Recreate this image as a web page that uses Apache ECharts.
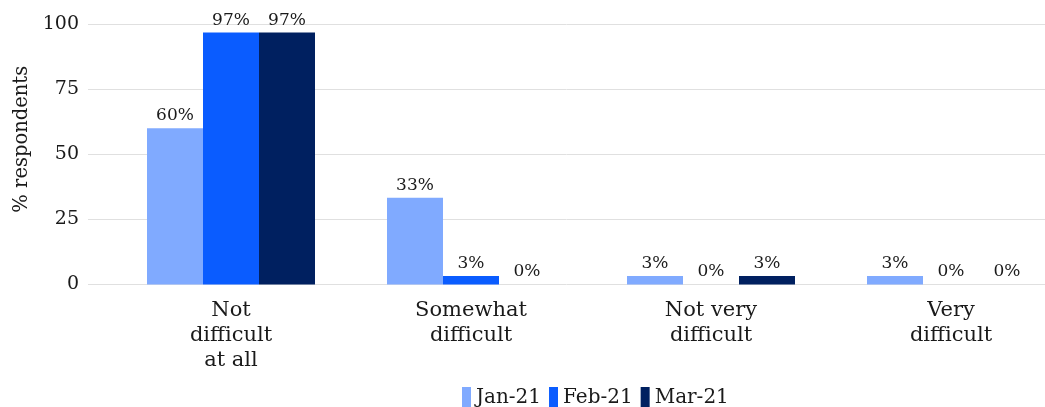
<!DOCTYPE html>
<html>
<head>
<meta charset="utf-8">
<script src="https://cdn.jsdelivr.net/npm/echarts@6/dist/echarts.min.js"></script>
<style>
html,body{margin:0;padding:0;background:#fff;}
#chart{width:1045px;height:407px;}
</style>
</head>
<body>
<div id="chart"></div>
<script>
const categories = ['Not\ndifficult\nat all', 'Somewhat\ndifficult', 'Not very\ndifficult', 'Very\ndifficult'];
const seriesNames = ['Jan-21', 'Feb-21', 'Mar-21'];
const jan21 = [60, 33.3, 3.3, 3.3];
const feb21 = [96.7, 3.3, 0, 0];
const mar21 = [96.7, 0, 3.3, 0];
const yTicks = [0, 25, 50, 75, 100];
const colors = ['#80aaff', '#0a5cff', '#002060'];
const FONT = 'DejaVu Serif';

const chart = echarts.init(document.getElementById('chart'));
const mkSeries = (name, data, color) => ({
  name: name, type: 'bar', xAxisIndex: 1, yAxisIndex: 1,
  data: data, barWidth: 56, barGap: '0%',
  itemStyle: { color: color },
  label: {
    show: true, position: 'top', distance: 4,
    fontFamily: FONT, fontSize: 17, color: '#1a1a1a',
    formatter: p => Math.round(p.value) + '%'
  }
});
chart.setOption({
  animation: false,
  textStyle: { fontFamily: FONT },
  grid: [
    { left: 88, right: 0, top: 24, bottom: 122.5, outerBoundsMode: 'none' },
    { left: 111, width: 960, top: 24, bottom: 122.5, outerBoundsMode: 'none' }
  ],
  legend: {
    left: 457, top: 382, itemWidth: 9, itemHeight: 21, itemGap: 8,
    icon: 'rect',
    textStyle: { fontFamily: FONT, fontSize: 20, color: '#1a1a1a' },
    data: seriesNames
  },
  xAxis: [
    { gridIndex: 0, type: 'category', data: [''], show: false },
    {
      gridIndex: 1, type: 'category', data: categories,
      axisLine: { show: false }, axisTick: { show: false },
      axisLabel: { fontFamily: FONT, fontSize: 21, lineHeight: 25, color: '#1a1a1a', margin: 14 }
    }
  ],
  yAxis: [
    {
      gridIndex: 0, type: 'value', min: yTicks[0], max: yTicks[yTicks.length - 1], interval: 25,
      axisLine: { show: false }, axisTick: { show: false },
      splitLine: { lineStyle: { color: '#e0e0e0', width: 1 } },
      axisLabel: { fontFamily: FONT, fontSize: 19, color: '#1a1a1a', margin: 9 },
      name: '% respondents', nameLocation: 'middle', nameRotate: 90, nameGap: 55,
      nameTextStyle: { fontFamily: FONT, fontSize: 19.5, color: '#1a1a1a', padding: [0, 0, 0, 30] }
    },
    { gridIndex: 1, type: 'value', min: 0, max: 100, show: false }
  ],
  series: [
    mkSeries(seriesNames[0], jan21, colors[0]),
    mkSeries(seriesNames[1], feb21, colors[1]),
    mkSeries(seriesNames[2], mar21, colors[2])
  ]
});
</script>
</body>
</html>
